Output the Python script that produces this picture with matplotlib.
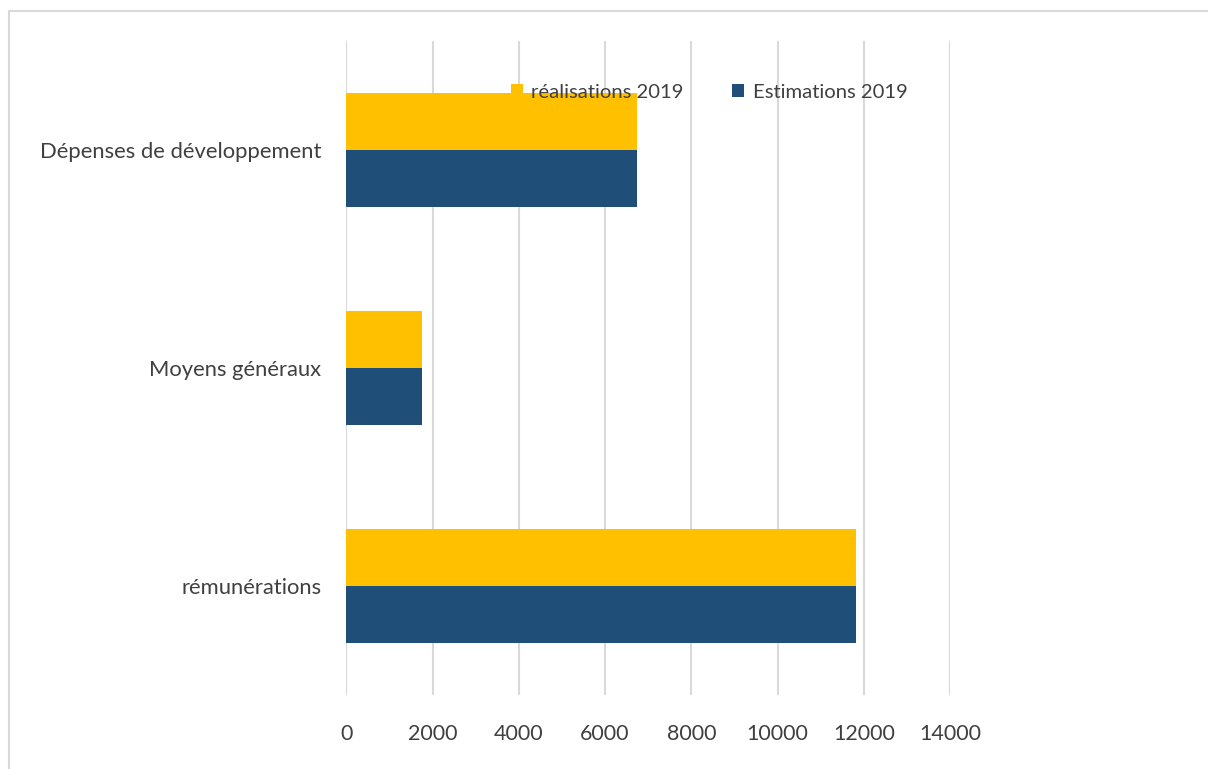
import matplotlib
matplotlib.use("Agg")
from matplotlib import pyplot as plt
from matplotlib.patches import Rectangle
import numpy as np

categories = ["rémunérations", "Moyens généraux", "Dépenses de développement"]
realisations_2019 = [11820, 1750, 6740]
estimations_2019 = [11820, 1750, 6740]
x_ticks = [0, 2000, 4000, 6000, 8000, 10000, 12000, 14000]

yellow = "#ffc000"
blue = "#1f4e79"
txt = "#404040"

plt.rcParams["font.family"] = ["Lato", "DejaVu Sans"]

fig = plt.figure(figsize=(12.08, 7.69), dpi=100)
ax = fig.add_axes([0.2868, 0.0962, 0.4996, 0.8505])

y = np.arange(len(categories))
h = 0.26
ax.barh(y + h / 2, realisations_2019, height=h, color=yellow, label="réalisations 2019", zorder=2)
ax.barh(y - h / 2, estimations_2019, height=h, color=blue, label="Estimations 2019", zorder=2)

ax.set_xlim(0, 14000)
ax.set_ylim(-0.5, 2.5)
ax.set_xticks(x_ticks)
ax.set_xticklabels([str(t) for t in x_ticks], fontsize=15.5, color=txt)
ax.set_yticks(y)
ax.set_yticklabels(categories, fontsize=15.8, color=txt)
ax.tick_params(axis="x", length=0, pad=21)
ax.tick_params(axis="y", length=0, pad=18)
ax.grid(axis="x", color="#d9d9d9", linewidth=1.5, zorder=0)
ax.set_axisbelow(True)
for s in ax.spines.values():
    s.set_visible(False)

leg = fig.legend(loc="center", bbox_to_anchor=(0.587, 0.880), ncol=2, frameon=False,
                 fontsize=14.6, handlelength=0.6, handleheight=0.6, handletextpad=0.4,
                 columnspacing=2.4, labelcolor=txt)

# cadre gris autour du graphique
fig.patches.append(Rectangle((9 / 1208, -0.05), 1.1, 1 - 11 / 769 + 0.05,
                             transform=fig.transFigure, fill=False,
                             edgecolor="#d9d9d9", linewidth=1.5))

fig.savefig("out.png", dpi=100)
